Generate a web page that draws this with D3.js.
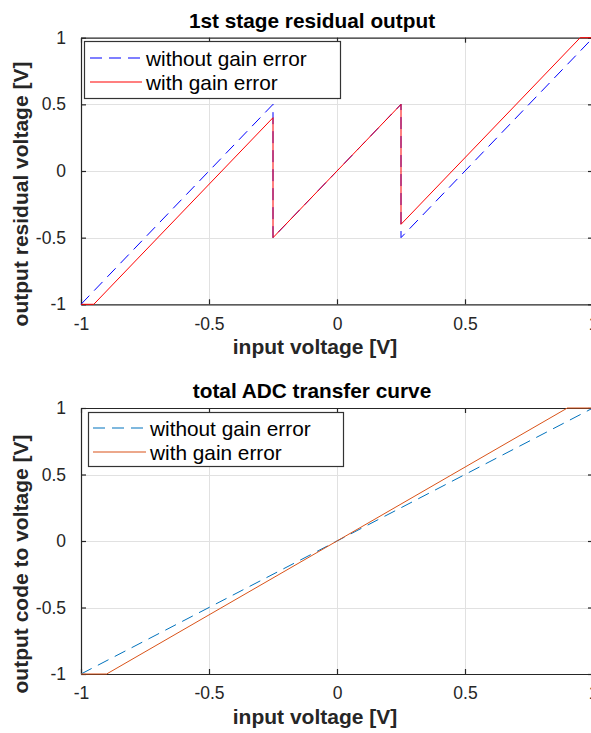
<!DOCTYPE html>
<html>
<head>
<meta charset="utf-8">
<script src="https://cdn.jsdelivr.net/npm/d3@7"></script>
<style>
  html, body { margin: 0; padding: 0; background: #fff; }
  svg { display: block; font-family: "Liberation Sans", Arial, Helvetica, sans-serif; }
</style>
</head>
<body>
<svg id="chart" width="591" height="733"></svg>
<script>
// Tick values and labels shared by both panels
const tickValues = [-1, -0.5, 0, 0.5, 1];
const tickLabels = ["-1", "-0.5", "0", "0.5", "1"];

// 1st stage residue: breakpoints of the piecewise-linear transfer
const residueIdealX = [-1, -0.25, -0.25, 0.25, 0.25, 1];
const residueIdealY = [-1, 0.5, -0.5, 0.5, -0.5, 1];
const residueGainX = [-1, -0.95, -0.25, -0.25, 0.25, 0.25, 0.95, 1];
const residueGainY = [-1, -1, 0.4, -0.5, 0.5, -0.4, 1, 1];

// Total ADC transfer curve
const adcIdealX = [-1, 1];
const adcIdealY = [-1, 1];
const adcGainX = [-1, -0.9, 0.9, 1];
const adcGainY = [-1, -1, 1, 1];

const seriesNames = ["without gain error", "with gain error"];

const svg = d3.select("#chart");
const axisColor = "#262626";
const gridColor = "#e1e1e1";

const panels = [
  {
    top: 37.7, bottom: 304.3,
    title: "1st stage residual output",
    ylabel: "output residual voltage [V]",
    colors: ["#0000ff", "#ff0000"],
    series: [[residueIdealX, residueIdealY], [residueGainX, residueGainY]],
    legend: { x: 84, y: 41, w: 256, h: 57, lineX0: 90, lineX1: 142, textX: 146, rows: [58, 82] },
    ylabelY: 194
  },
  {
    top: 408, bottom: 674,
    title: "total ADC transfer curve",
    ylabel: "output code to voltage [V]",
    colors: ["#0072BD", "#D95319"],
    series: [[adcIdealX, adcIdealY], [adcGainX, adcGainY]],
    legend: { x: 88, y: 412, w: 255, h: 54, lineX0: 93, lineX1: 146, textX: 150, rows: [428, 452] },
    ylabelY: 564
  }
];

const left = 81, right = 593;
const x = d3.scaleLinear().domain([-1, 1]).range([left, right]);

panels.forEach(p => {
  const y = d3.scaleLinear().domain([-1, 1]).range([p.bottom, p.top]);
  const g = svg.append("g");

  // grid
  g.append("g").selectAll("line").data(tickValues.slice(1, -1)).join("line")
    .attr("x1", d => Math.round(x(d)) + 0.5).attr("x2", d => Math.round(x(d)) + 0.5)
    .attr("y1", p.top).attr("y2", p.bottom)
    .attr("stroke", gridColor).attr("stroke-width", 1);
  g.append("g").selectAll("line").data(tickValues.slice(1, -1)).join("line")
    .attr("y1", d => Math.round(y(d)) + 0.5).attr("y2", d => Math.round(y(d)) + 0.5)
    .attr("x1", left).attr("x2", right)
    .attr("stroke", gridColor).attr("stroke-width", 1);

  // axes (ticks inside), plus mirrored top/right
  const tickFmt = d => tickLabels[tickValues.indexOf(d)];
  const bottomAxis = d3.axisBottom(x).tickValues(tickValues).tickFormat(tickFmt).tickSizeInner(-5).tickSizeOuter(0).tickPadding(13);
  const leftAxis = d3.axisLeft(y).tickValues(tickValues).tickFormat(tickFmt).tickSizeInner(-5).tickSizeOuter(0).tickPadding(15);
  const topAxis = d3.axisTop(x).tickValues(tickValues).tickFormat("").tickSizeInner(-5).tickSizeOuter(0);
  const rightAxis = d3.axisRight(y).tickValues(tickValues).tickFormat("").tickSizeInner(-5).tickSizeOuter(0);

  const styleAxis = sel => {
    sel.selectAll("path").attr("stroke", axisColor).attr("stroke-width", 1.2);
    sel.selectAll("line").attr("stroke", axisColor).attr("stroke-width", 1.2);
    sel.selectAll("text").attr("fill", axisColor).style("font-size", "17.5px")
      .style("font-family", "'Liberation Sans', Arial, sans-serif");
  };

  g.append("g").attr("transform", `translate(0,${p.bottom})`).call(bottomAxis).call(styleAxis);
  g.append("g").attr("transform", `translate(${left},0)`).call(leftAxis).call(styleAxis);
  g.append("g").attr("transform", `translate(0,${p.top})`).call(topAxis).call(styleAxis);
  g.append("g").attr("transform", `translate(${right},0)`).call(rightAxis).call(styleAxis);

  // title and axis labels
  g.append("text").attr("x", 312).attr("y", p.top - 10)
    .attr("text-anchor", "middle").attr("font-weight", "bold").attr("font-size", 20.8)
    .attr("fill", "#000").text(p.title);
  g.append("text").attr("x", 315).attr("y", p.bottom + 50)
    .attr("text-anchor", "middle").attr("font-weight", "bold").attr("font-size", 21)
    .attr("fill", axisColor).text("input voltage [V]");
  g.append("text").attr("transform", `translate(28,${p.ylabelY}) rotate(-90)`)
    .attr("text-anchor", "middle").attr("font-weight", "bold").attr("font-size", 21)
    .attr("fill", axisColor).text(p.ylabel);

  // data lines
  const line = d3.line().x(d => x(d[0])).y(d => y(d[1]));
  p.series.forEach((s, i) => {
    const pts = s[0].map((xv, k) => [xv, s[1][k]]);
    g.append("path").datum(pts).attr("d", line)
      .attr("fill", "none").attr("stroke", p.colors[i]).attr("stroke-width", 1)
      .attr("stroke-dasharray", i === 0 ? "12,7" : null);
  });

  // legend
  const L = p.legend;
  g.append("rect").attr("x", L.x + 0.5).attr("y", L.y + 0.5).attr("width", L.w).attr("height", L.h)
    .attr("fill", "#fff").attr("stroke", "#333").attr("stroke-width", 1.2);
  seriesNames.forEach((name, i) => {
    g.append("line").attr("x1", L.lineX0).attr("x2", L.lineX1)
      .attr("y1", L.rows[i]).attr("y2", L.rows[i])
      .attr("stroke", p.colors[i]).attr("stroke-width", 1.2)
      .attr("stroke-dasharray", i === 0 ? "12,7" : null);
    g.append("text").attr("x", L.textX).attr("y", L.rows[i])
      .attr("dominant-baseline", "central").attr("font-size", 20.8)
      .attr("fill", "#000").text(name);
  });
});
</script>
</body>
</html>
